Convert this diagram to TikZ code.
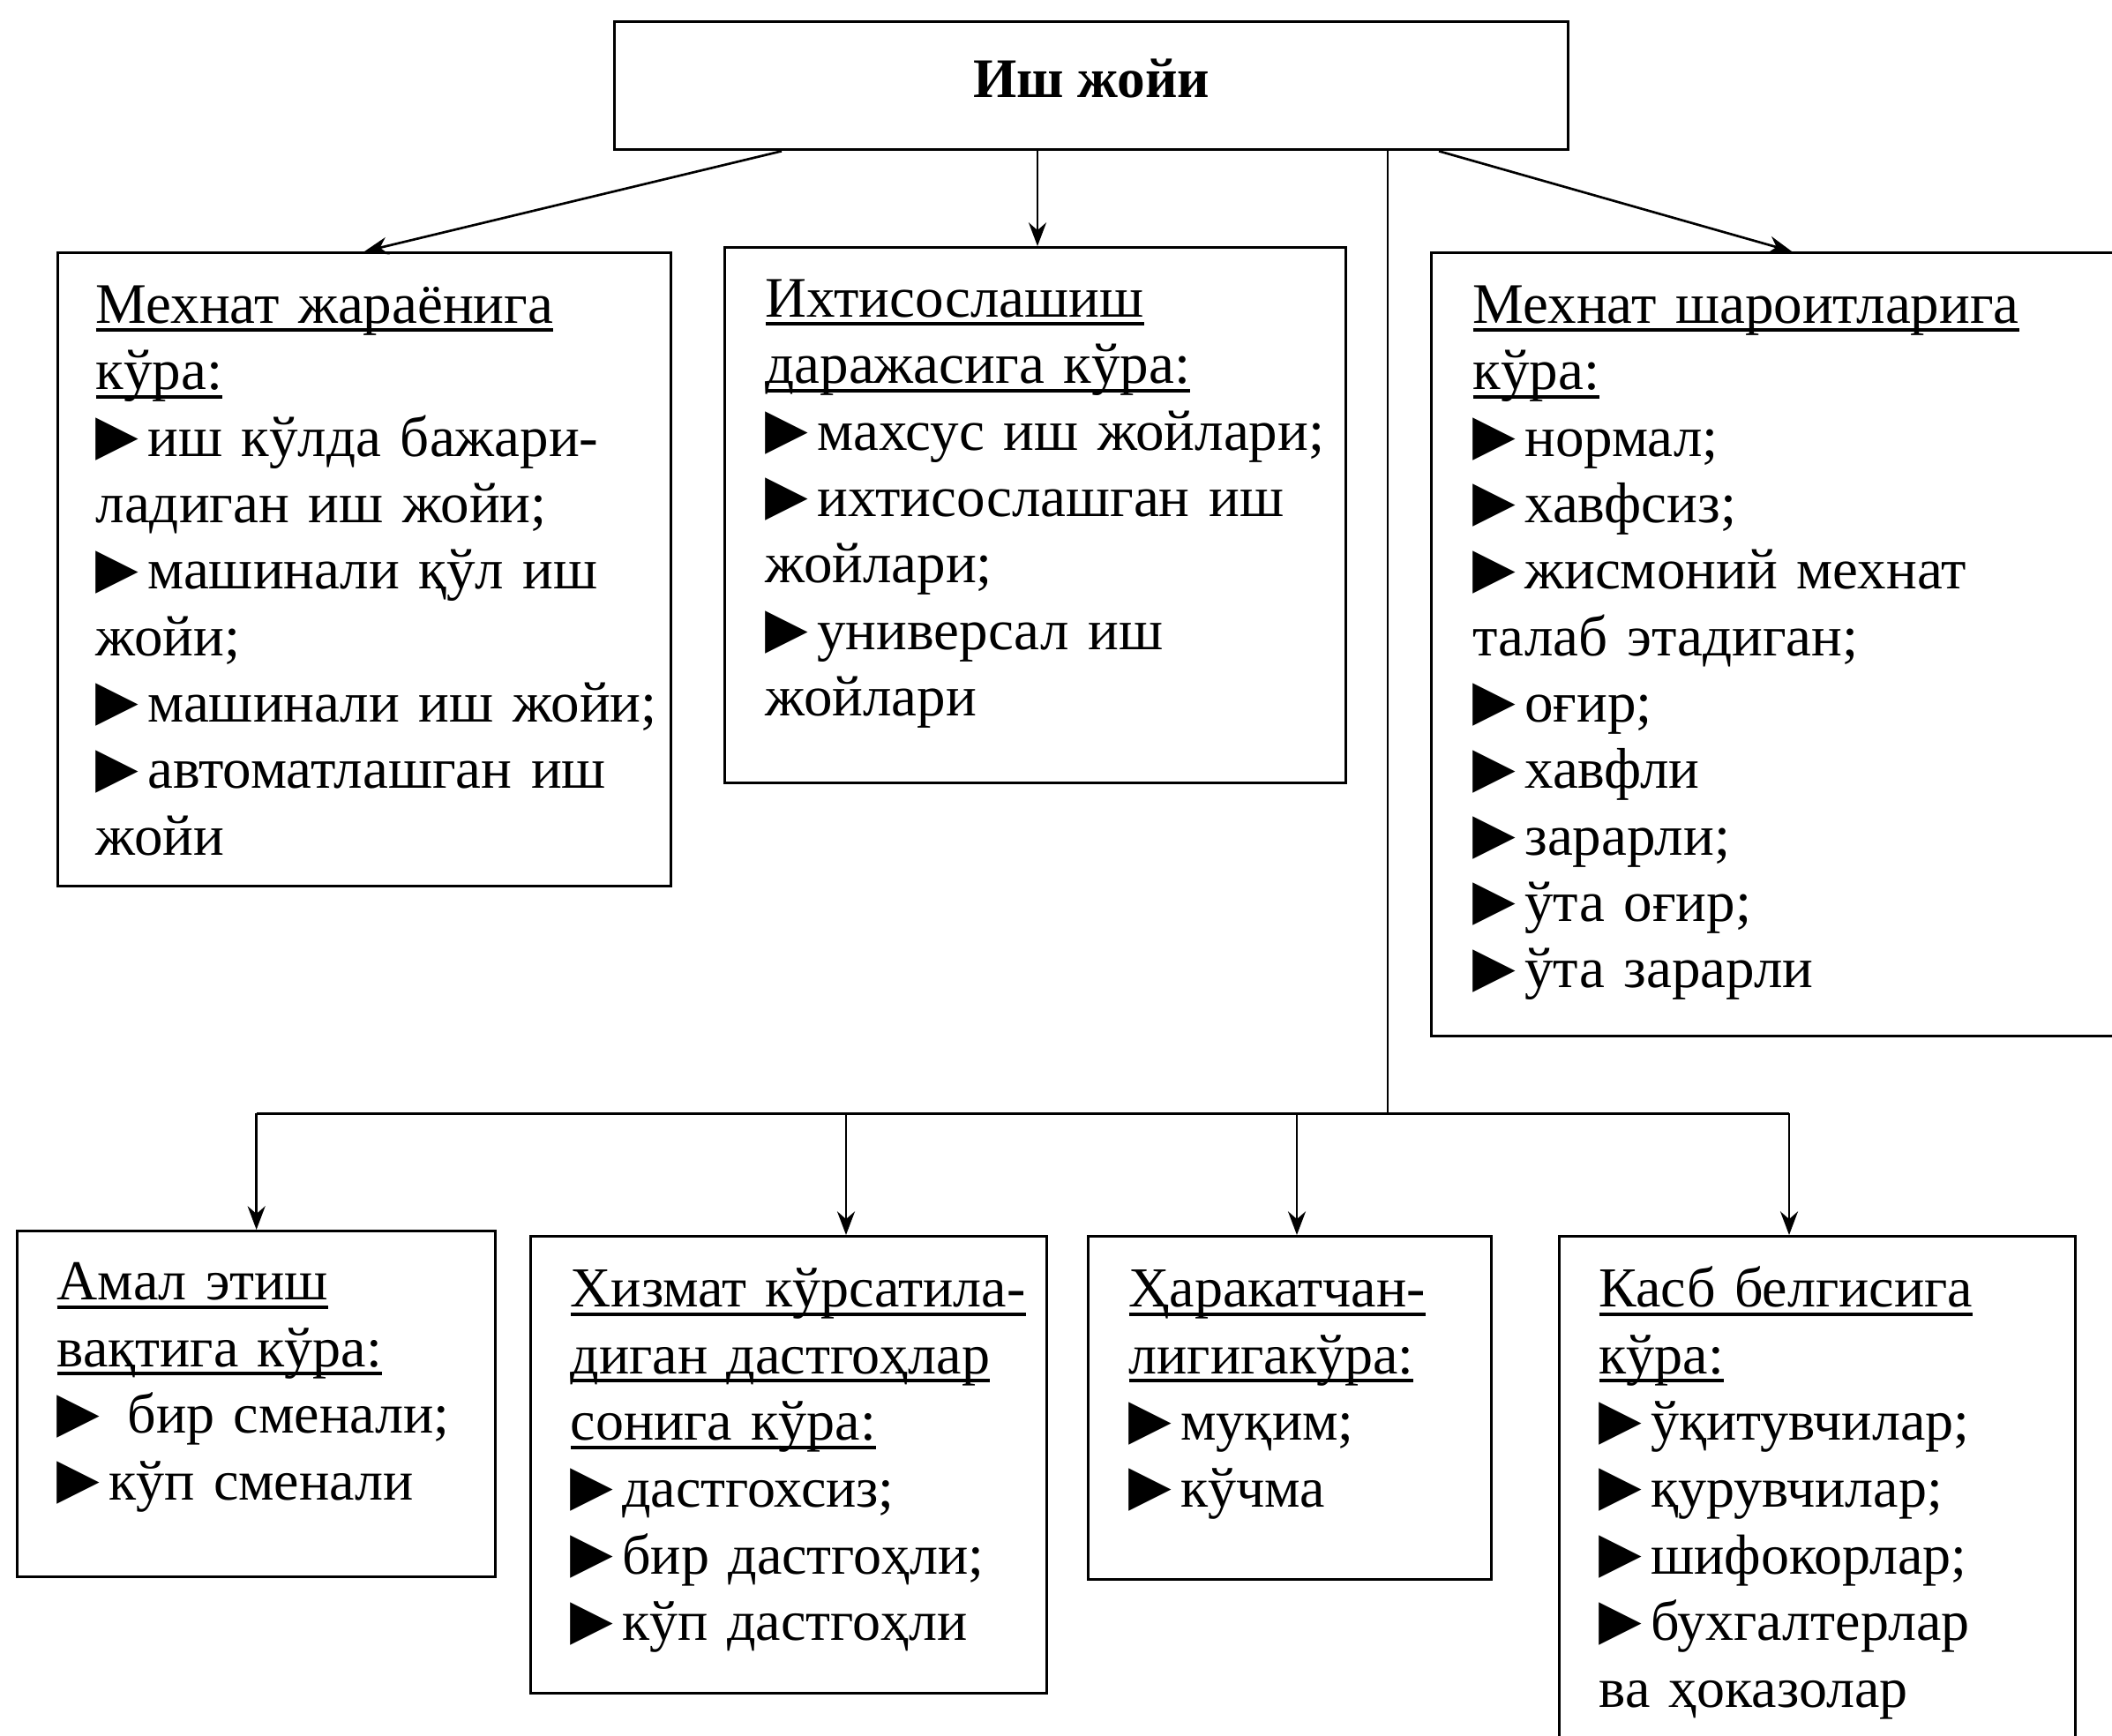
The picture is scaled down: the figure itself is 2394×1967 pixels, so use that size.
\documentclass[tikz,border=0pt]{standalone}
\usepackage{fontspec}
\setmainfont{Liberation Serif}
\newfontfamily\symf{DejaVu Sans}
\usetikzlibrary{arrows.meta}
\newcommand{\bl}{\raisebox{0.8pt}{\symf\fontsize{19}{19}\selectfont ▶}\hspace{3pt}}
\newlength\ulwd
\newcommand{\ulx}[1]{\leavevmode\settowidth{\ulwd}{#1}\rlap{\rule[-3pt]{\ulwd}{1.2pt}}#1}
\begin{document}
\begin{tikzpicture}[x=0.3pt,y=-0.3pt,
 box/.style={draw,line width=1pt,anchor=north west,inner sep=0pt},
 txt/.style={anchor=north west,inner sep=0pt,align=left,text width=260pt,font=\fontsize{19.5}{22.6}\selectfont},
 txtb/.style={txt,font=\fontsize{19.2}{22.7}\selectfont},
 arr/.style={line width=0.8pt,-{Stealth[length=8pt,width=6pt]}},
 ln/.style={line width=0.8pt}]
\useasboundingbox (0,0) rectangle (2394,1967);
% boxes
\node[box,minimum width=324.3pt,minimum height=43.5pt] (top) at (695,23) {};
\node[font=\bfseries\fontsize{19}{22}\selectfont] (toptxt) at ([yshift=2.5pt]top.center) {Иш жойи};
\node[box,minimum width=208.5pt,minimum height=215.4pt] (b1) at (64,285) {};
\node[box,minimum width=211.2pt,minimum height=182.1pt] (b2) at (820,279) {};
\node[box,minimum width=255pt,minimum height=266.4pt] (b3) at (1621,285) {};
\node[box,minimum width=162.6pt,minimum height=117.6pt] (b4) at (18,1394) {};
\node[box,minimum width=175.5pt,minimum height=155.4pt] (b5) at (600,1400) {};
\node[box,minimum width=137.1pt,minimum height=116.7pt] (b6) at (1232,1400) {};
\node[box,minimum width=175.5pt,minimum height=186pt] (b7) at (1766,1400) {};
% texts
\node[txt] (x1) at (108,313) {\strut\ulx{Мехнат жараёнига}\\ \ulx{кўра:}\\ \bl иш кўлда бажари-\\ ладиган иш жойи;\\ \bl машинали қўл иш\\ жойи;\\ \bl машинали иш жойи;\\ \bl автоматлашган иш\\ жойи};
\node[txt] (x2) at (867,306) {\strut\ulx{Ихтисослашиш}\\ \ulx{даражасига кўра:}\\ \bl махсус иш жойлари;\\ \bl ихтисослашган иш\\ жойлари;\\ \bl универсал иш\\ жойлари};
\node[txt] (x3) at (1669,313) {\strut\ulx{Мехнат шароитларига}\\ \ulx{кўра:}\\ \bl нормал;\\ \bl хавфсиз;\\ \bl жисмоний мехнат\\ талаб этадиган;\\ \bl оғир;\\ \bl хавфли\\ \bl зарарли;\\ \bl ўта оғир;\\ \bl ўта зарарли};
\node[txtb] (x4) at (64,1420) {\strut\ulx{Амал этиш}\\ \ulx{вақтига кўра:}\\ \bl\ бир сменали;\\ \bl кўп сменали};
\node[txtb] (x5) at (646,1428) {\strut\ulx{Хизмат кўрсатила-}\\ \ulx{диган дастгоҳлар}\\ \ulx{сонига кўра:}\\ \bl дастгохсиз;\\ \bl бир дастгоҳли;\\ \bl кўп дастгоҳли};
\node[txtb] (x6) at (1279,1428) {\strut\ulx{Ҳаракатчан-}\\ \ulx{лигигакўра:}\\ \bl муқим;\\ \bl кўчма};
\node[txtb] (x7) at (1812,1428) {\strut\ulx{Касб белгисига}\\ \ulx{кўра:}\\ \bl ўқитувчилар;\\ \bl қурувчилар;\\ \bl шифокорлар;\\ \bl бухгалтерлар\\ ва ҳоказолар};
% connector points
\coordinate (s1) at ([xshift=57.3pt]top.south west);
\coordinate (s2) at ([xshift=144.3pt]top.south west);
\coordinate (s3) at ([xshift=263.4pt]top.south west);
\coordinate (s4) at ([xshift=280.8pt]top.south west);
\coordinate (e3) at ([xshift=123pt]b3.north west);
\coordinate (d5) at ([xshift=107.7pt]b5.north west);
\coordinate (d6) at ([xshift=71.4pt]b6.north west);
\coordinate (d7) at ([xshift=78.6pt]b7.north west);
\coordinate (bus) at ([yshift=-327.3pt]s3);
% connectors
\draw[arr] (s1) -- (b1.north);
\draw[arr] (s2) -- (s2 |- b2.north);
\draw[arr] (s4) -- (e3);
\draw[ln] (s3) -- (bus);
\draw[ln] (b4.north |- bus) -- (d7 |- bus);
\draw[arr] (b4.north |- bus) -- (b4.north);
\draw[arr] (d5 |- bus) -- (d5);
\draw[arr] (d6 |- bus) -- (d6);
\draw[arr] (d7 |- bus) -- (d7);
\end{tikzpicture}
\end{document}
